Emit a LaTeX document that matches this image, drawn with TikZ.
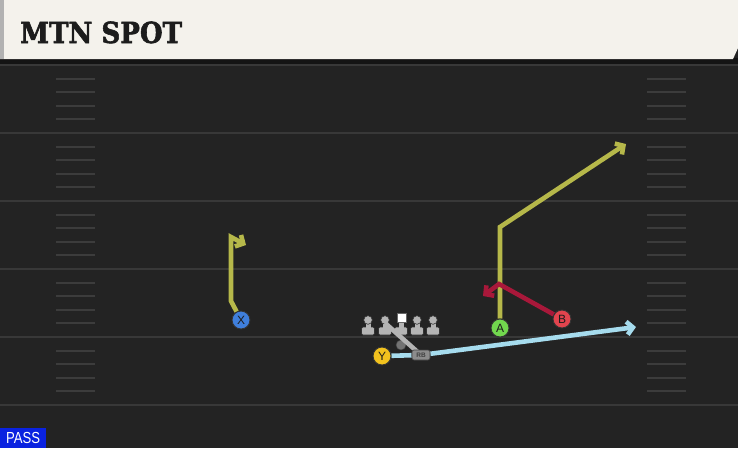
\documentclass[tikz,border=0pt]{standalone}
\usepackage{fontspec}
\newfontfamily\titlefont{DejaVu Serif}[FakeBold=2]
\newfontfamily\labelfont{Liberation Sans}
\usetikzlibrary{arrows.meta}
\pgfdeclarelayer{bg}
\pgfsetlayers{bg,main}
\definecolor{fieldc}{HTML}{232323}
\definecolor{linec}{HTML}{383838}
\definecolor{hashc}{HTML}{3C3C3C}
\definecolor{titlebg}{HTML}{F4F2EC}
\definecolor{titletx}{HTML}{1C1C1C}
\definecolor{olivec}{HTML}{B6B84A}
\definecolor{redroute}{HTML}{A8183A}
\definecolor{blueroute}{HTML}{A6DCEE}
\definecolor{xblue}{HTML}{3F7FDC}
\definecolor{agreen}{HTML}{72D84E}
\definecolor{bred}{HTML}{E2444E}
\definecolor{yyellow}{HTML}{F2C21E}
\definecolor{olgray}{HTML}{B4B4B4}
\definecolor{passblue}{HTML}{0A22E0}
\tikzset{
  route/.style={draw=#1, line width=4.6pt, line join=miter, -{Straight Barb[length=6pt,width=13pt]}},
  routeplain/.style={draw=#1, line width=4.6pt, line join=miter},
  player/.style={circle, fill=#1, draw=black!80, line width=0.9pt, minimum size=18pt, inner sep=0pt,
    font=\labelfont\fontsize{12}{12}\selectfont, text=titletx},
  rbbox/.style={rounded corners=2pt, fill=black!45, draw=black!75, line width=0.6pt, minimum width=18pt,
    minimum height=10pt, inner sep=0pt, font=\labelfont\bfseries\fontsize{6.5}{6.5}\selectfont, text=black!75},
  yardline/.style={draw=linec, line width=2pt},
  hashmark/.style={draw=hashc, line width=2pt},
}
\begin{document}
\begin{tikzpicture}[x=1pt,y=-1pt]
\useasboundingbox (0,0) rectangle (738,448);
\begin{pgfonlayer}{bg}
\fill[fieldc] (0,0) rectangle (738,448);
% yard lines
\foreach \yy in {65,133,201,269,337,405} {\draw[yardline] (0,\yy) -- (738,\yy);}
% hash marks
\foreach \k in {1,...,24} {
  \pgfmathtruncatemacro\m{mod(\k,5)}
  \ifnum\m>0
    \pgfmathsetmacro\yy{65+13.6*\k}
    \draw[hashmark] (56,\yy) -- (95,\yy);
    \draw[hashmark] (647,\yy) -- (686,\yy);
  \fi
}
% title bar
\fill[black!92] (0,58) rectangle (738,64);
\fill[titlebg] (0,0) -- (738,0) -- (738,48) -- (733,59) -- (0,59) -- cycle;
\fill[black!30] (0,0) rectangle (4,59);
\end{pgfonlayer}

\node[anchor=base west, inner sep=0pt, font=\titlefont\bfseries\fontsize{29}{29}\selectfont, text=titletx] (title) at (20,43) {\scalebox{0.9}[1]{MTN SPOT}};

% players
\node[player=xblue] (x) at (241,320) {X};
\node[player=agreen] (a) at (500,328) {A};
\node[player=bred] (b) at (562,319) {B};
\node[player=yyellow] (y) at (382,356) {Y};
\node[circle, fill=black!55, draw=black!75, line width=0.5pt, minimum size=10pt, inner sep=0pt] (qb) at (401,345) {};

% offensive line
\foreach \xx in {368,385,417,433} {
  \fill[olgray, draw=black!80, line width=0.6pt, rounded corners=1.5pt] (\xx-6.5,327) rectangle (\xx+6.5,335);
  \fill[olgray] (\xx-2.5,320) rectangle (\xx+2.5,328);
  \fill[olgray, draw=black!80, line width=0.6pt] (\xx,320) circle (4.3);
}
\fill[olgray, draw=black!80, line width=0.6pt, rounded corners=1.5pt] (394.5,327) rectangle (407.5,335);
\fill[olgray] (398.5,320) rectangle (403.5,328);
\fill[white, draw=black!60, line width=0.6pt] (397,313.5) rectangle (406,322.5);
\coordinate (lg) at (385,323);

% pass protection line
\draw[routeplain=olgray, line width=4.6pt] (lg) -- (421,355);
\node[rbbox] (rb) at (421,355) {RB};

\coordinate (x1) at (231,301);
\coordinate (x2) at (231,237);
\coordinate (x3) at (246,245);
\coordinate (a1) at (500,227);
\coordinate (a2) at (626,144);
\coordinate (b1) at (499,284);
\coordinate (b2) at (483,296);
\coordinate (y2) at (636,327);
\begin{pgfonlayer}{bg}
\draw[route=olivec] (x) -- (x1) -- (x2) -- (x3);
\draw[route=olivec] (a) -- (a1) -- (a2);
\draw[route=redroute] (b) -- (b1) -- (b2);
\draw[route=blueroute] (y) -- (rb) -- (y2);
\end{pgfonlayer}

\node[fill=passblue, text=white, anchor=south west, inner sep=0pt, minimum width=46pt, minimum height=20pt,
  font=\labelfont\fontsize{16}{16}\selectfont] (pass) at (0,448) {\scalebox{0.82}[1]{PASS}};
\end{tikzpicture}
\end{document}
